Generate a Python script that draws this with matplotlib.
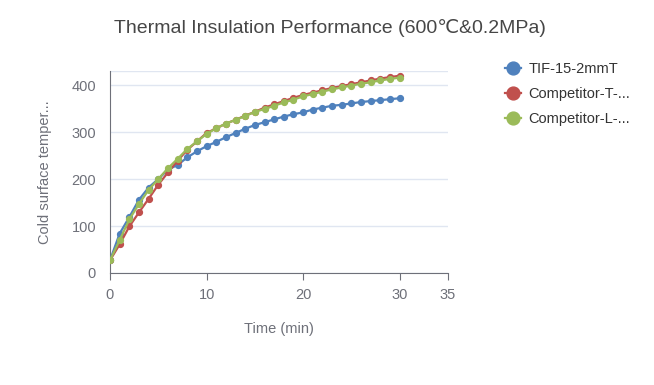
import matplotlib
matplotlib.use("Agg")
import matplotlib.pyplot as plt
import numpy as np

plt.rcParams['font.family'] = ['Liberation Sans', 'DejaVu Sans']

# minutes 0..30
time_min = list(range(31))
tif = [27, 84, 119, 156, 182, 200, 220, 230, 246, 259, 270, 279, 289, 298, 307, 315,
       321, 327, 333, 338, 342, 348, 352, 356, 358, 361, 364, 366, 368, 370, 372]
comp_t = [27, 61, 99, 129, 158, 188, 214, 239, 262, 280, 298, 308, 318, 326, 335, 343,
          352, 359, 366, 373, 379, 384, 389, 394, 398, 402, 406, 410, 414, 417, 420]
comp_l = [27, 70, 114, 147, 177, 200, 223, 243, 264, 280, 296, 308, 318, 326, 334, 343,
          349, 356, 363, 369, 376, 381, 386, 391, 395, 399, 403, 406, 410, 413, 416]
series_names = ["TIF-15-2mmT", "Competitor-T-...", "Competitor-L-..."]
colors = ["#4f81bd", "#c0504d", "#9bbb59"]

fig = plt.figure(figsize=(6.54, 3.85), dpi=100)
ax = fig.add_axes([110 / 654, 1 - 273 / 385, 338 / 654, 202 / 385])

lines = []
for vals, name, c in zip([tif, comp_t, comp_l], series_names, colors):
    ln, = ax.plot(time_min, vals, color=c, lw=1.6, marker="o", ms=4.2, label=name, zorder=3)
    lines.append(ln)

ax.set_xlim(0, 35)
ax.set_ylim(0, 430)
ax.set_xticks([0, 10, 20, 30, 35])
ax.set_yticks([0, 100, 200, 300, 400])
ax.grid(axis="y", color="#e0e6f1", lw=1)
ax.set_axisbelow(True)
for s in ["top", "right"]:
    ax.spines[s].set_visible(False)
for s in ["left", "bottom"]:
    ax.spines[s].set_color("#6e7079")
ax.tick_params(axis="y", length=0, colors="#6e7079", labelsize=10.5, pad=10)
ax.tick_params(axis="x", length=5, color="#6e7079", colors="#6e7079", labelsize=10.5, pad=6)
ax.axhline(430, color="#e0e6f1", lw=1, zorder=0)

ax.set_xlabel("Time (min)", color="#6e7079", fontsize=10.5, labelpad=14)
ax.set_ylabel("Cold surface temper...", color="#6e7079", fontsize=10.5, labelpad=14)

fig.text(330 / 654, 1 - 28 / 385, "Thermal Insulation Performance (600\u2103&0.2MPa)",
         ha="center", va="center", fontsize=14, color="#464646")

leg = fig.legend(handles=lines, loc="upper left", bbox_to_anchor=(492 / 654, 1 - 49 / 385),
                 frameon=False, fontsize=10.5, labelspacing=0.75, handlelength=1.1,
                 handletextpad=0.5, markerscale=2.2)
for t in leg.get_texts():
    t.set_color("#333333")

fig.savefig("out.png", dpi=100)
